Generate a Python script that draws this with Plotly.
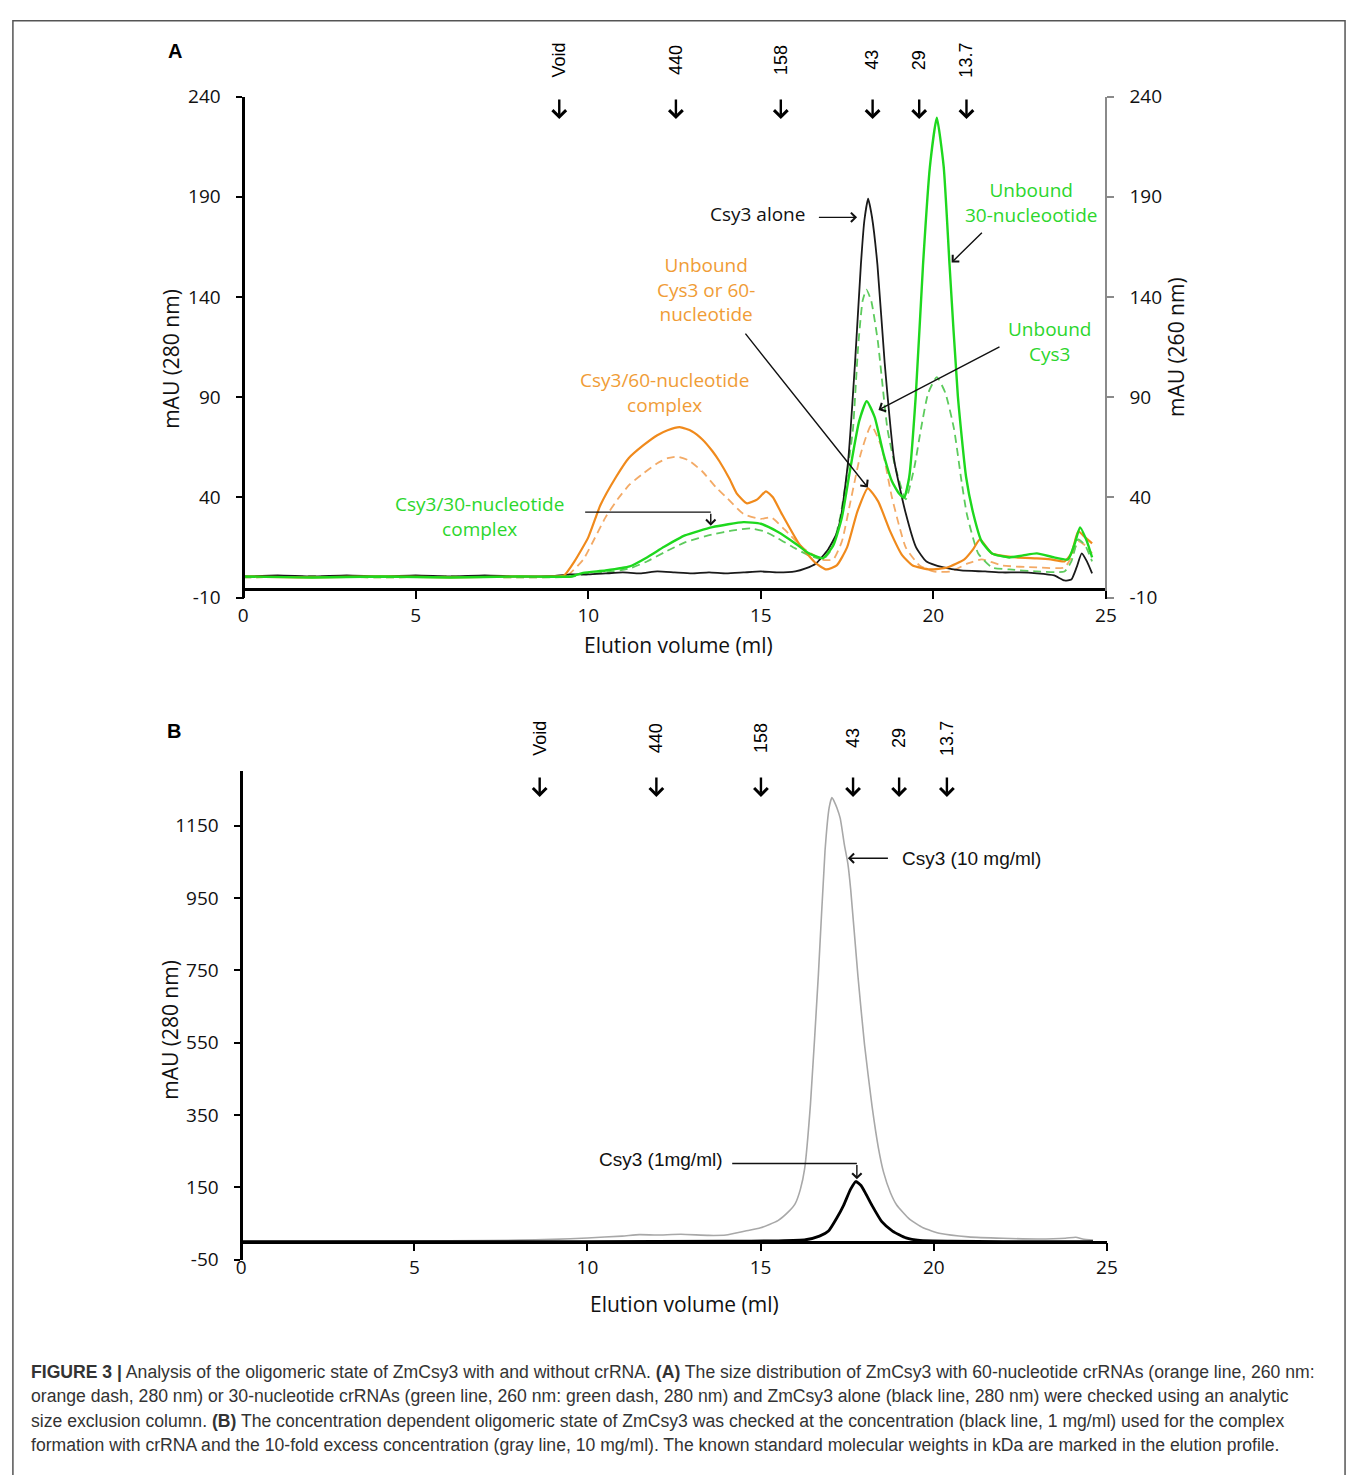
import plotly.graph_objects as go

W, H = 1360, 1475

# ---------------- Panel A data (elution volume in ml, absorbance in mAU) ----------------
a_black_x = [0, 1, 2, 3, 4, 5, 6, 7, 8, 9, 9.5, 10, 10.5, 11, 11.5, 12, 12.5, 13, 13.5, 14, 14.5, 15,
             15.5, 16, 16.3, 16.6, 16.95, 17.2, 17.34, 17.53, 17.73, 17.9, 18.0, 18.11, 18.22, 18.38,
             18.59, 18.87, 19.2, 19.5, 19.8, 20.3, 20.8, 21.5, 22, 22.5, 23, 23.5, 23.8, 24.0, 24.15,
             24.3, 24.45, 24.6]
a_black_y = [0.5, 1, 0.5, 1, 0.5, 1, 0.5, 1, 0.5, 0.8, 1.5, 1.5, 2, 2.5, 2, 3, 2.5, 2, 2.5, 2, 2.5, 3,
             2.5, 3, 4.5, 7, 14, 22, 32, 58, 107, 156, 178, 189, 180, 156,
             107, 58, 32, 15, 8, 5, 3.5, 3, 2.5, 2.5, 2, 1, -1.5, -1, 5,
             12, 8, 2]

a_orange_x = [0, 2, 4, 6, 8, 9, 9.3, 9.6, 10.0, 10.35, 10.8, 11.17, 11.6, 12.0, 12.3, 12.65, 13.0, 13.3,
              13.6, 13.8, 14.1, 14.3, 14.6, 14.9, 15.15, 15.35, 15.6, 16.1, 16.6, 16.9, 17.2, 17.5,
              17.8, 18.1, 18.4, 18.75, 19.1, 19.4, 19.9, 20.4, 20.9, 21.15, 21.35, 21.7, 22.4, 23.0,
              23.4, 23.8, 24.0, 24.2, 24.4, 24.6]
a_orange_y = [0.5, 0, 0.5, 0, 0.5, 0.5, 1, 8, 20, 36, 50, 59.5, 66, 71, 73.5, 75, 73, 69,
              63, 58, 49, 42, 37, 39, 43, 40, 32, 17, 7, 4, 6, 15,
              33, 44.5, 38, 23, 11, 6, 4, 5, 9, 14, 19, 12, 10, 9.5,
              9, 8, 12, 23, 20, 17]

a_orange_dash_x = [0, 2, 4, 6, 8, 9.2, 9.4, 9.85, 10.2, 10.5, 10.85, 11.2, 11.6, 12.0, 12.3, 12.57, 12.9,
                   13.3, 13.7, 14.0, 14.5, 15.0, 15.3, 15.8, 16.3, 16.8, 17.1, 17.35, 17.6, 17.9, 18.2,
                   18.5, 18.8, 19.2, 19.6, 20.0, 20.5, 21.0, 21.4, 22.0, 23.0, 23.8, 24.0, 24.2, 24.4,
                   24.6]
a_orange_dash_y = [0, 0.5, 0, 0.5, 0, 0.3, 1, 8.8, 20, 30, 39, 46.4, 52, 57, 59.5, 60.3, 58.5,
                   53, 45, 40, 31.7, 29.2, 30, 22, 13.7, 8.8, 9, 18, 38, 62, 76,
                   65, 40, 15, 6, 3, 3, 7, 9, 6, 5, 5, 10, 18, 16,
                   12]

a_green_x = [0, 2, 4, 6, 8, 9.5, 9.85, 10.5, 11.2, 11.7, 12.2, 12.8, 13.6, 14.5, 15.0, 15.5, 16.0, 16.4,
             16.8, 17.1, 17.35, 17.6, 17.85, 18.07, 18.3, 18.55, 18.8, 19.0, 19.15, 19.3, 19.49, 19.7,
             19.9, 20.1, 20.3, 20.47, 20.71, 20.95, 21.16, 21.4, 21.7, 22.2, 22.6, 23.0, 23.5, 23.9,
             24.1, 24.25, 24.45, 24.6]
a_green_y = [0.5, 0, 0.5, 0, 0.5, 0.5, 2.3, 3.5, 5.5, 10, 15.3, 21, 25.1, 27.6, 26.8, 22.7, 17, 12,
             9.6, 16, 30, 55, 78, 88, 80, 62, 48, 42, 39.8, 50, 90.5, 155.8,
             204.9, 229.4, 204.9, 155.8, 90.5, 50, 31.7, 18, 12, 10, 11, 12, 10, 9,
             17, 25, 18, 10]

a_green_dash_x = [0, 2, 4, 6, 8, 9.5, 9.85, 10.5, 11.2, 11.7, 12.2, 12.8, 13.6, 14.2, 14.7, 15.1, 15.5,
                  16.0, 16.4, 16.8, 17.05, 17.3, 17.5, 17.67, 17.82, 17.95, 18.06, 18.2, 18.39, 18.67,
                  18.9, 19.2, 19.45, 19.64, 19.85, 20.1, 20.35, 20.6, 20.8, 20.97, 21.3, 21.7, 22.2,
                  23.0, 23.8, 24.0, 24.2, 24.4, 24.6]
a_green_dash_y = [0, 0.5, 0, 0.5, 0, 0.3, 1.5, 2.5, 4.5, 8, 12.5, 17.5, 21.5, 23.5, 24.5, 23, 19.5,
                  14.5, 11, 9, 14, 30, 52, 74, 115, 138, 143.6, 138, 118, 74,
                  55, 39, 55, 74, 92, 100, 92, 74, 50, 31.7, 12, 5, 4,
                  3, 3, 8, 19, 16, 8]

# ---------------- Panel B data ----------------
b_gray_x = [0, 2, 4, 6, 8, 9, 10, 11, 11.5, 12, 12.7, 13.5, 14.0, 14.56, 15.0, 15.5, 15.8, 16.0, 16.15,
            16.27, 16.44, 16.67, 16.86, 16.98, 17.06, 17.12, 17.2, 17.3, 17.42, 17.52, 17.6, 17.81,
            18.0, 18.22, 18.4, 18.55, 18.75, 18.93, 19.3, 19.69, 20.2, 21, 22, 23, 23.8, 24.1, 24.3,
            24.6]
b_gray_y = [0, 0, 1, 2, 4, 6, 10, 15, 19, 18, 20, 17, 18, 29, 38, 58, 82, 105, 145,
            200, 380, 740, 1080, 1200, 1228, 1218, 1200, 1170, 1097, 1045, 975, 735,
            545, 373, 260, 192, 135, 101, 62, 38, 22, 13, 9, 7, 9, 12, 7,
            4]

b_black_x = [0, 5, 10, 14, 15.5, 16.3, 16.7, 16.96, 17.2, 17.4, 17.6, 17.75, 17.9, 18.05, 18.21, 18.5,
             18.81, 19.2, 19.6, 20.5, 22, 24.6]
b_black_y = [0, 0, 0, 1, 2, 5, 15, 29, 65, 101, 145, 166, 155, 130, 101, 55,
             29, 10, 3, 1, 0, 0]

# ---------------- marker (standard) positions ----------------
marker_labels = ["Void", "440", "158", "43", "29", "13.7"]
a_marker_x = [9.16, 12.54, 15.58, 18.24, 19.59, 20.96]
b_marker_x = [8.62, 11.99, 15.01, 17.67, 19.0, 20.38]

x_ticks = [0, 5, 10, 15, 20, 25]
a_y_ticks = [-10, 40, 90, 140, 190, 240]
b_y_ticks = [-50, 150, 350, 550, 750, 950, 1150]

# ---------------- helpers ----------------
def px(p):
    return p / W


def py(p):
    return 1 - p / H


A_YRANGE = [-10, 240]
B_YRANGE = [-50, 1300]
A_YDOM = [py(595), py(85)]
B_YDOM = [py(1269), py(772)]


def axis_pos(val, rng, dom):
    return dom[0] + (val - rng[0]) / (rng[1] - rng[0]) * (dom[1] - dom[0])


ORANGE = "#F08A1C"
ORANGE_D = "#F3AA66"
GREEN = "#1ED81E"
GREEN_D = "#5DCB5D"
ORANGE_T = "#F09C36"
GREEN_T = "#2CD62C"

fig = go.Figure()

def add_line(x, y, color, width, xa, ya, dash=None):
    fig.add_trace(go.Scatter(x=x, y=y, mode="lines", xaxis=xa, yaxis=ya, hoverinfo="skip",
                             line=dict(color=color, width=width, dash=dash,
                                       shape="spline", smoothing=0.5)))

add_line(a_orange_dash_x, a_orange_dash_y, ORANGE_D, 1.8, "x", "y", "8px,5px")
add_line(a_green_dash_x, a_green_dash_y, GREEN_D, 1.8, "x", "y", "8px,5px")
add_line(a_black_x, a_black_y, "#1a1a1a", 1.8, "x", "y")
add_line(a_orange_x, a_orange_y, ORANGE, 2.2, "x", "y2")
add_line(a_green_x, a_green_y, GREEN, 2.4, "x", "y2")

add_line(b_gray_x, b_gray_y, "#A8A8A8", 1.6, "x2", "y3")
add_line(b_black_x, b_black_y, "#000000", 2.8, "x2", "y3")

TICKFONT = dict(family="Open Sans, Noto Sans, sans-serif", size=19, color="#111")

common_x = dict(range=[0, 25], tickvals=x_ticks, showline=True, linecolor="black", linewidth=2.5,
                ticks="outside", ticklen=8, tickwidth=2.2, tickcolor="black", showgrid=False,
                zeroline=False, tickfont=TICKFONT, anchor="free", fixedrange=True)
common_y = dict(showline=True, linecolor="black", linewidth=2.5, ticks="outside", ticklen=6,
                tickwidth=2.2, tickcolor="black", showgrid=False, zeroline=False, tickfont=TICKFONT,
                anchor="free", ticklabelstandoff=12, fixedrange=True)

fig.update_layout(
    width=W, height=H, margin=dict(l=0, r=0, t=0, b=0),
    paper_bgcolor="white", plot_bgcolor="rgba(0,0,0,0)", showlegend=False,
    xaxis=dict(common_x, domain=[px(241), px(1114)],
               position=axis_pos(-6, A_YRANGE, A_YDOM)),
    yaxis=dict(common_y, domain=A_YDOM, range=A_YRANGE, tickvals=a_y_ticks,
               ticktext=[str(v) for v in a_y_ticks], position=px(241)),
    yaxis2=dict(common_y, overlaying="y", side="right", range=A_YRANGE, tickvals=a_y_ticks,
                ticktext=[str(v) for v in a_y_ticks],
                position=px(1114), linecolor="#8a8a8a", linewidth=1.5, tickcolor="#8a8a8a",
                tickwidth=1.5, ticklen=7),
    xaxis2=dict(common_x, domain=[px(239), px(1115)],
                position=axis_pos(0, B_YRANGE, B_YDOM)),
    yaxis3=dict(common_y, domain=B_YDOM, range=B_YRANGE, tickvals=b_y_ticks,
                ticktext=[str(v) for v in b_y_ticks], position=px(239)),
)

ann = []
SANS = "Open Sans, Noto Sans, sans-serif"
ARIAL = "Liberation Sans, Arial, sans-serif"


def paper_text(text, x, y, font, angle=0, xanchor="center"):
    ann.append(dict(text=text, x=px(x), y=py(y), xref="paper", yref="paper", showarrow=False,
                    xanchor=xanchor, yanchor="middle", textangle=angle, font=font))


# panel letters
paper_text("<b>A</b>", 172, 39, dict(family=ARIAL, size=20, color="black"))
paper_text("<b>B</b>", 171, 731, dict(family=ARIAL, size=20, color="black"))

# molecular weight markers
for xs, xref, ylab, ytip in [(a_marker_x, "x", 48, 108), (b_marker_x, "x2", 738, 798)]:
    for lab, xv in zip(marker_labels, xs):
        ann.append(dict(text=lab, x=xv, xref=xref, y=py(ylab), yref="paper", textangle=-90,
                        xanchor="center", yanchor="middle",
                        showarrow=False, font=dict(family=ARIAL, size=18, color="black")))
        ann.append(dict(text="", x=xv, xref=xref, y=py(ytip), yref="paper", showarrow=True,
                        ax=0, ay=-21, arrowhead=4, arrowsize=1.1, arrowwidth=2.4,
                        arrowcolor="black"))

# axis titles
TITLEFONT = dict(family=SANS, size=21, color="#111")
paper_text("Elution volume (ml)", 682, 643, TITLEFONT)
paper_text("mAU (280 nm)", 168, 352, TITLEFONT, angle=-90)
paper_text("mAU (260 nm)", 1185, 340, TITLEFONT, angle=-90)
paper_text("Elution volume (ml)", 688, 1314, TITLEFONT)
paper_text("mAU (280 nm)", 167, 1035, TITLEFONT, angle=-90)

# panel labels
LBL = 19
def label(text, x, y, color, xref="x", yref="y", xanchor="center", fam=SANS):
    ann.append(dict(text=text, x=x, y=y, xref=xref, yref=yref, showarrow=False, xanchor=xanchor,
                    yanchor="middle", align="center", font=dict(family=fam, size=LBL, color=color)))

def arrow(x0, y0, x1, y1, xref="x", yref="y", width=1.4):
    ann.append(dict(text="", x=x1, y=y1, ax=x0, ay=y0, xref=xref, yref=yref, axref=xref,
                    ayref=yref, showarrow=True, arrowhead=4, arrowsize=1.3, arrowwidth=width,
                    arrowcolor="#111"))

label("Csy3 alone", 14.89, 181.2, "#111")
arrow(16.64, 179.7, 17.79, 179.7)
label("Unbound<br>30-nucleootide", 22.82, 187.3, GREEN_T)
arrow(21.45, 172.8, 20.53, 157.2)
label("Unbound<br>Cys3", 23.37, 117.9, GREEN_T)
arrow(21.96, 115.5, 18.41, 83.6)
label("Unbound<br>Cys3 or 60-<br>nucleotide", 13.4, 143.9, ORANGE_T)
arrow(14.52, 122.4, 18.10, 44.9)
label("Csy3/60-nucleotide<br>complex", 12.2, 92.5, ORANGE_T)
label("Csy3/30-nucleotide<br>complex", 6.84, 30.2, GREEN_T)
arrow(13.55, 32.6, 13.55, 25.8)

label("Csy3 (10 mg/ml)", 19.04, 1058, "#111", xref="x2", yref="y3", xanchor="left", fam=ARIAL)
arrow(18.72, 1060, 17.52, 1060, xref="x2", yref="y3")
label("Csy3 (1mg/ml)", 13.96, 227, "#111", xref="x2", yref="y3", xanchor="right", fam=ARIAL)
arrow(17.78, 216, 17.78, 172, xref="x2", yref="y3")

shapes = [
    dict(type="line", xref="x", yref="y", x0=9.91, x1=13.55, y0=32.6, y1=32.6,
         line=dict(color="#111", width=1.4)),
    dict(type="line", xref="x2", yref="y3", x0=14.18, x1=17.78, y0=216, y1=216,
         line=dict(color="#111", width=1.4)),
    dict(type="rect", xref="paper", yref="paper", x0=px(8), x1=px(1356), y0=py(1490), y1=py(8),
         line=dict(color="#555", width=1.5), fillcolor="rgba(0,0,0,0)"),
]

# caption
caption_lines = [
    "<b>FIGURE 3 |</b> Analysis of the oligomeric state of ZmCsy3 with and without crRNA. <b>(A)</b> The size distribution of ZmCsy3 with 60-nucleotide crRNAs (orange line, 260 nm:",
    "orange dash, 280 nm) or 30-nucleotide crRNAs (green line, 260 nm: green dash, 280 nm) and ZmCsy3 alone (black line, 280 nm) were checked using an analytic",
    "size exclusion column. <b>(B)</b> The concentration dependent oligomeric state of ZmCsy3 was checked at the concentration (black line, 1 mg/ml) used for the complex",
    "formation with crRNA and the 10-fold excess concentration (gray line, 10 mg/ml). The known standard molecular weights in kDa are marked in the elution profile.",
]
for i, line in enumerate(caption_lines):
    paper_text(line, 24, 1383 + 25 * i, dict(family=ARIAL, size=17.6, color="#333"), xanchor="left")

fig.update_layout(annotations=ann, shapes=shapes)

fig.write_html("out.html", config={"displayModeBar": False},
               post_script="document.body.style.margin='0px';")
